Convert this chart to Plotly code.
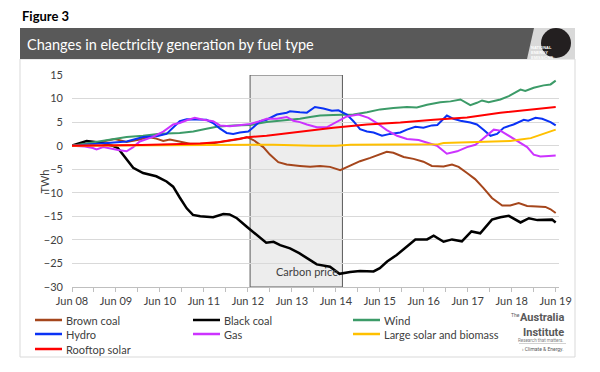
import plotly.graph_objects as go

# ---------------- data (months since Jun 2008, TWh change) ----------------
tick_months = [0, 12, 24, 36, 48, 60, 72, 84, 96, 108, 120, 132]
tick_labels = ["Jun 08", "Jun 09", "Jun 10", "Jun 11", "Jun 12", "Jun 13",
               "Jun 14", "Jun 15", "Jun 16", "Jun 17", "Jun 18", "Jun 19"]
y_ticks = [15, 10, 5, 0, -5, -10, -15, -20, -25, -30]

brown_m = [0, 6, 11.7, 14.9, 18.5, 20.8, 23, 24.9, 26.7, 29.4, 32.2, 37.6, 42.2, 45.8, 47.7,
           49.5, 52.2, 54, 56.3, 58.6, 62.2, 65, 67.7, 70.4, 73.2, 75.9, 78.6, 81.4, 84.1,
           85.9, 87.7, 90.5, 93.2, 95.9, 98.2, 101.4, 103.7, 105.5, 107.8, 110, 112.3, 114.6,
           117.4, 119.6, 121.9, 124.2, 126.9, 129.2, 130.6, 132]
brown_v = [0, 0.5, 1.4, 0.8, 1.3, 1.85, 1.5, 1.0, 1.3, 0.9, 0.4, 0.4, 0.9, 1.4, 1.85,
           1.2, -0.3, -1.9, -3.5, -4.0, -4.3, -4.5, -4.3, -4.5, -5.2, -4.3, -3.3, -2.6, -1.9,
           -1.3, -1.5, -2.4, -2.8, -3.4, -4.3, -4.4, -4.0, -4.5, -5.8, -7.1, -9.0, -11.1,
           -12.7, -12.7, -12.2, -12.8, -12.9, -13.0, -13.5, -14.3]

black_m = [0, 4, 8, 11, 12.5, 14.4, 16.7, 19.4, 23, 25.8, 27.6, 29.4, 31.3, 33, 35, 38.5,
           41.3, 43, 45, 47.7, 50.4, 53, 55, 56.8, 59.5, 62, 65, 66.8, 70.4, 73, 75.9, 78.6,
           82.3, 84, 86, 88.6, 91.4, 93.7, 96.9, 98.7, 101.4, 103.7, 106.4, 109, 111.4,
           114.6, 116.9, 119.2, 122.4, 124.7, 127, 131, 132]
black_v = [0, 1.0, 0.6, 0, -0.5, -2.3, -4.7, -5.8, -6.5, -7.6, -8.7, -11.0, -13.3, -14.7,
           -15.0, -15.2, -14.5, -14.6, -15.4, -17.2, -18.9, -20.6, -20.4, -21.1, -21.8, -22.8,
           -24.3, -25.2, -25.7, -27.2, -26.8, -26.6, -26.7, -26.0, -24.6, -23.2, -21.4, -19.9,
           -19.9, -19.1, -20.4, -19.9, -20.3, -18.2, -18.6, -15.7, -15.2, -14.9, -16.3, -15.4,
           -15.8, -15.7, -16.3]

wind_m = [0, 4.3, 7.6, 11.1, 14.9, 19.4, 24, 29.4, 33.1, 36.7, 39.5, 44, 48.6, 53.1, 58.6,
          62.2, 65, 67.7, 71.3, 74.1, 76.8, 80.5, 84.1, 87.7, 91.4, 94.1, 96.9, 100.5, 103.3,
          106, 107.3, 108.7, 110.5, 111.9, 113.7, 116.9, 119.2, 122.4, 123.7, 126, 128.7,
          130.6, 132]
wind_v = [0, 0.5, 0.9, 1.3, 1.85, 2.1, 2.55, 2.7, 3.0, 3.6, 4.0, 4.3, 4.4, 5.0, 5.4,
          5.7, 6.1, 6.4, 6.5, 6.6, 6.6, 7.1, 7.7, 8.0, 8.2, 8.1, 8.7, 9.2, 9.4,
          9.8, 9.2, 8.6, 9.1, 9.6, 9.2, 9.8, 10.5, 11.9, 11.6, 12.3, 12.8, 13.0, 13.8]

hydro_m = [0, 7.6, 11.1, 14.9, 19.4, 23.1, 25.8, 27.6, 29.4, 31.3, 34, 36.7, 38.5, 40.4,
           42.2, 44, 45.8, 48.1, 49.5, 51.3, 53.1, 55.9, 58.6, 59.5, 62.2, 64.1, 66.3, 68.6,
           70.9, 72.7, 75, 76.8, 78.6, 80.5, 82.3, 84.6, 86.8, 89.6, 91.4, 93.7, 95.9, 98.2,
           99.7, 101, 102.3, 104.1, 106, 108.7, 110.5, 112.3, 114.2, 116, 117.8, 120.5, 123.3,
           124.5, 126.5, 128.3, 130.6, 132]
hydro_v = [0, 0.4, 0.6, 0.9, 1.85, 2.0, 2.5, 3.8, 5.2, 5.6, 5.6, 5.5, 4.8, 3.6,
           2.7, 2.5, 2.8, 3.0, 3.9, 5.2, 5.5, 6.6, 7.0, 7.3, 7.1, 7.0, 8.2, 7.9,
           7.4, 7.5, 6.6, 5.2, 3.5, 3.0, 2.8, 2.1, 2.5, 2.8, 3.4, 4.0, 3.8, 4.3,
           4.4, 5.5, 6.4, 5.7, 5.3, 4.9, 4.5, 3.4, 2.1, 2.5, 3.8, 4.5, 5.5,
           5.3, 5.9, 5.7, 5.0, 4.3]

gas_m = [0, 3.5, 5.7, 6.7, 8.5, 10.3, 12.6, 14.9, 16.7, 18.5, 20.3, 22.1, 24.9, 27.6, 29.4,
         31.3, 33.5, 35.8, 38.5, 40.4, 43.1, 45.8, 48.6, 51.3, 53.1, 55.9, 58.6, 60.4, 62.2,
         64.1, 66.8, 69.5, 72.3, 75, 78.2, 80.9, 83.2, 85.9, 88.7, 91.4, 94.6, 96.9, 99.6,
         102.3, 105.1, 107.8, 110.1, 111.9, 113.3, 115.1, 116.9, 118.7, 121.5, 124.2, 126,
         127.8, 130.1, 132]
gas_v = [0, -0.2, -0.5, -0.8, -0.3, -0.6, -0.9, -1.2, -0.3, 0.9, 1.3, 1.85, 3.0, 4.5, 4.8,
         5.4, 5.9, 5.5, 5.2, 4.3, 4.1, 4.3, 4.6, 5.2, 5.7, 5.7, 6.1, 5.3, 5.0,
         4.5, 3.9, 3.9, 5.1, 6.2, 6.6, 5.9, 4.8, 3.3, 2.1, 1.4, 1.2, 0.7, 0.0,
         -1.7, -1.2, -0.3, 0.2, 1.3, 2.3, 3.4, 3.2, 2.3, 0.9, -0.3, -1.9,
         -2.3, -2.2, -2.1]

solar_large_m = [0, 24, 48, 55, 66, 72, 76, 100, 101.4, 107.8, 113.3, 119.6, 122.4, 125.2,
                 127.8, 130.1, 132]
solar_large_v = [0, 0.1, 0.3, 0.2, 0.0, 0.0, 0.2, 0.3, 0.55, 0.7, 0.85, 1.0, 1.3, 1.6,
                 2.3, 2.9, 3.4]

rooftop_m = [0, 12, 19, 27, 35, 39.5, 44, 48.6, 53.1, 62.2, 71.3, 80.5, 89.6, 98.7, 107.8,
             116.9, 126, 132]
rooftop_v = [0, 0.05, 0.15, 0.3, 0.45, 0.7, 1.3, 1.85, 2.1, 3.0, 3.8, 4.5, 4.9, 5.5, 6.0,
             7.0, 7.8, 8.2]

carbon_price_start = 48.6   # months (Jul 2012)
carbon_price_end = 73.8     # months (Jul 2014)

series = [
    ("Brown coal", brown_m, brown_v, "#a5461c", 2),
    ("Black coal", black_m, black_v, "#000000", 2.5),
    ("Wind", wind_m, wind_v, "#3c9b68", 2),
    ("Hydro", hydro_m, hydro_v, "#0a32f5", 2),
    ("Gas", gas_m, gas_v, "#cc33ff", 2),
    ("Large solar and biomass", solar_large_m, solar_large_v, "#ffc000", 2),
    ("Rooftop solar", rooftop_m, rooftop_v, "#ff0000", 2),
]

# ---------------- layout geometry ----------------
W, H = 600, 372
ML, MR, MT, MB = 72, 41, 75, 85
PW, PH = W - ML - MR, H - MT - MB
FONT = "Lato"


def px(x):
    return (x - ML) / PW


def py(y):
    return (H - MB - y) / PH


fig = go.Figure()
for name, m, v, col, w in series:
    fig.add_trace(go.Scatter(x=m, y=v, mode="lines", name=name,
                             line=dict(color=col, width=w), showlegend=False,
                             hoverinfo="skip"))

shapes = []
annotations = []

# outer white panel with light border
shapes.append(dict(type="rect", xref="paper", yref="paper", layer="below",
                   x0=px(20), x1=px(575), y0=py(357), y1=py(59),
                   fillcolor="white", line=dict(color="#d9d9d9", width=1)))
# header bar
shapes.append(dict(type="rect", xref="paper", yref="paper",
                   x0=px(20), x1=px(575), y0=py(59), y1=py(28),
                   fillcolor="#d9d9d9", line=dict(width=0)))
shapes.append(dict(type="path", xref="paper", yref="paper",
                   path=f"M {px(20)},{py(28)} L {px(534)},{py(28)} L {px(527)},{py(59)} L {px(20)},{py(59)} Z",
                   fillcolor="#595959", line=dict(width=0)))
shapes.append(dict(type="circle", xref="paper", yref="paper",
                   x0=px(541), x1=px(571), y0=py(58), y1=py(28),
                   fillcolor="#231f20", line=dict(width=0)))
annotations.append(dict(xref="paper", yref="paper", x=px(556), y=py(43),
                        text="<b>NATIONAL<br>ENERGY<br>EMISSIONS<br>AUDIT</b>",
                        showarrow=False, font=dict(size=4, color="white",
                                                   family="Liberation Sans Narrow, Liberation Sans"),
                        align="left"))

# carbon price box
shapes.append(dict(type="rect", xref="x", yref="y", layer="below",
                   x0=carbon_price_start, x1=carbon_price_end, y0=-30, y1=15,
                   fillcolor="#ededed", line=dict(color="#595959", width=1)))
annotations.append(dict(xref="x", yref="y", x=64.0, y=-26.8, text="Carbon price",
                        showarrow=False, font=dict(size=11, color="#404040", family=FONT)))

# titles
annotations.append(dict(xref="paper", yref="paper", x=px(20), y=py(16),
                        xanchor="left", yanchor="middle", text="<b>Figure 3</b>",
                        showarrow=False, font=dict(size=13, color="#000000", family=FONT)))
annotations.append(dict(xref="paper", yref="paper", x=px(25), y=py(44),
                        xanchor="left", yanchor="middle",
                        text="Changes in electricity generation by fuel type",
                        showarrow=False, font=dict(size=14.5, color="white", family=FONT)))
# y-axis title
annotations.append(dict(xref="paper", yref="paper", x=px(35), y=py(182),
                        text="TWh", textangle=-90, showarrow=False,
                        font=dict(size=11, color="#404040", family=FONT)))

# manual legend (3 columns)
leg_cols = [35, 193, 353]
leg_rows = [320, 334, 349]
for i, (name, m, v, col, w) in enumerate(series):
    cx = leg_cols[i % 3]
    ry = leg_rows[i // 3]
    shapes.append(dict(type="line", xref="paper", yref="paper",
                       x0=px(cx), x1=px(cx + 27), y0=py(ry), y1=py(ry),
                       line=dict(color=col, width=2.5)))
    annotations.append(dict(xref="paper", yref="paper", x=px(cx + 29), y=py(ry),
                            xanchor="left", yanchor="middle", text=name, showarrow=False,
                            font=dict(size=11, color="#404040", family=FONT)))

# Australia Institute logo text
LOGO_FONT = "Liberation Sans Narrow, Roboto"
annotations.append(dict(xref="paper", yref="paper", x=px(522), y=py(315),
                        xanchor="right", yanchor="middle", text="The", showarrow=False,
                        font=dict(size=5, color="#595959", family=LOGO_FONT)))
annotations.append(dict(xref="paper", yref="paper", x=px(566), y=py(317.5),
                        xanchor="right", yanchor="middle", text="<b>Australia</b>",
                        showarrow=False, font=dict(size=11, color="#595959", family=LOGO_FONT)))
annotations.append(dict(xref="paper", yref="paper", x=px(566), y=py(332),
                        xanchor="right", yanchor="middle", text="<b>Institute</b>",
                        showarrow=False, font=dict(size=11, color="#595959", family=LOGO_FONT)))
annotations.append(dict(xref="paper", yref="paper", x=px(566), y=py(340.5),
                        xanchor="right", yanchor="middle", text="Research that matters.",
                        showarrow=False, font=dict(size=4.5, color="#7f7f7f", family="Roboto")))
shapes.append(dict(type="line", xref="paper", yref="paper", x0=px(519), x1=px(566),
                   y0=py(343.5), y1=py(343.5), line=dict(color="#bfbfbf", width=0.7)))
annotations.append(dict(xref="paper", yref="paper", x=px(566), y=py(349),
                        xanchor="right", yanchor="middle", text="› Climate & Energy.",
                        showarrow=False, font=dict(size=5, color="#595959", family="Roboto")))

fig.update_layout(
    width=W, height=H, margin=dict(l=ML, r=MR, t=MT, b=MB, pad=0),
    paper_bgcolor="white", plot_bgcolor="rgba(0,0,0,0)",
    shapes=shapes, annotations=annotations, showlegend=False,
    font=dict(family=FONT, color="#404040"),
)
fig.update_xaxes(range=[0, 132.9], tickvals=tick_months, ticktext=tick_labels,
                 showgrid=False, zeroline=False, showline=True, linecolor="#bfbfbf",
                 ticks="outside", ticklen=4, tickcolor="#bfbfbf",
                 minor=dict(ticks="outside", dtick=6, tick0=0, ticklen=4, tickcolor="#bfbfbf"),
                 tickfont=dict(size=11, color="#404040", family=FONT))
fig.update_yaxes(range=[-30, 15], tickvals=y_ticks, showgrid=True, gridcolor="#d9d9d9",
                 gridwidth=1, zeroline=False, showline=False, ticks="",
                 ticklabelstandoff=8,
                 tickfont=dict(size=11, color="#404040", family=FONT))

fig.write_html("out.html", config={"displayModeBar": False},
               post_script="document.body.style.margin='0';document.body.style.padding='0';")
